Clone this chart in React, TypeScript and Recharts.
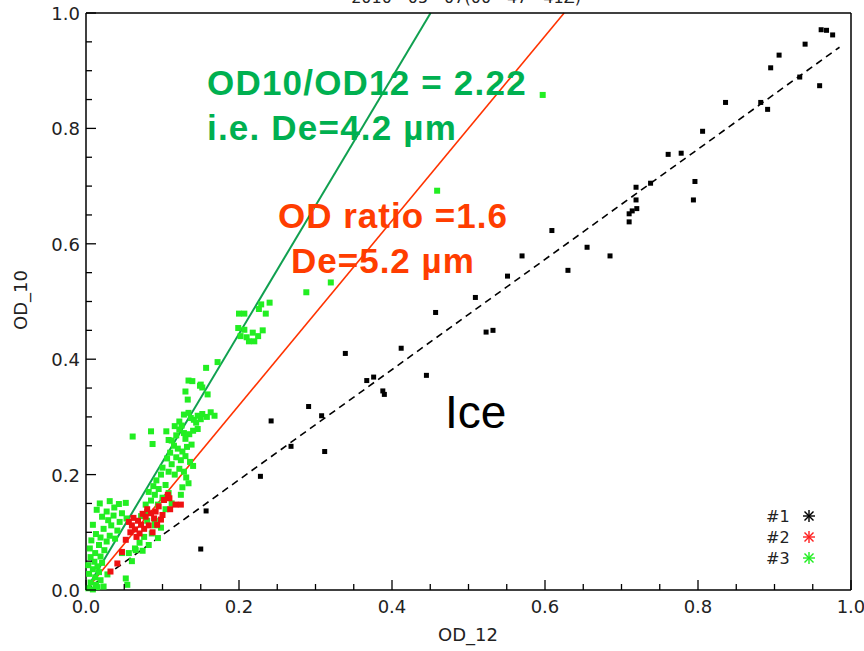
import React from 'react';
import { ScatterChart, Scatter, XAxis, YAxis, ReferenceLine } from 'recharts';

// tick positions (minor every 0.05, labelled every 0.2)
const axisTicks = [
  0, 0.05, 0.1, 0.15, 0.2, 0.25, 0.3, 0.35, 0.4, 0.45, 0.5,
  0.55, 0.6, 0.65, 0.7, 0.75, 0.8, 0.85, 0.9, 0.95, 1,
];

// #1 ice (OD_12, OD_10)
const iceX = [
  0.961, 0.968, 0.976, 0.94, 0.906, 0.895, 0.933, 0.959, 0.836, 0.882, 0.891, 0.806,
  0.761, 0.778, 0.796, 0.794, 0.738, 0.719, 0.719, 0.72, 0.714, 0.71, 0.71, 0.655,
  0.685, 0.609, 0.57, 0.63, 0.551, 0.509, 0.457, 0.523, 0.532, 0.412, 0.339, 0.445,
  0.367, 0.376, 0.388, 0.39, 0.291, 0.308, 0.242, 0.268, 0.312, 0.228, 0.157, 0.15,
];
const iceY = [
  0.971, 0.97, 0.962, 0.946, 0.927, 0.905, 0.889, 0.874, 0.845, 0.845, 0.833, 0.795,
  0.755, 0.757, 0.708, 0.676, 0.705, 0.698, 0.676, 0.661, 0.657, 0.652, 0.638, 0.594,
  0.579, 0.623, 0.579, 0.554, 0.544, 0.507, 0.481, 0.447, 0.45, 0.419, 0.41, 0.372,
  0.363, 0.369, 0.345, 0.339, 0.318, 0.302, 0.293, 0.249, 0.24, 0.197, 0.137, 0.071,
];

// #2
const redX = [
  0.107, 0.109, 0.102, 0.117, 0.124, 0.091, 0.085, 0.078, 0.089, 0.056, 0.06, 0.064,
  0.058, 0.068, 0.072, 0.076, 0.07, 0.082, 0.093, 0.098, 0.087, 0.066, 0.052, 0.047,
  0.041, 0.032, 0.095, 0.08, 0.1, 0.062, 0.074, 0.11,
];
const redY = [
  0.165, 0.159, 0.156, 0.148, 0.148, 0.136, 0.133, 0.127, 0.124, 0.118, 0.112, 0.105,
  0.1, 0.12, 0.113, 0.106, 0.098, 0.112, 0.113, 0.122, 0.1, 0.092, 0.087, 0.066,
  0.046, 0.032, 0.145, 0.14, 0.13, 0.125, 0.132, 0.14,
];

// #3
const greenX = [
  0.597, 0.459, 0.288, 0.32,
  0.24, 0.229, 0.226, 0.235, 0.2, 0.207, 0.199, 0.207, 0.231, 0.218, 0.202, 0.213, 0.22, 0.21, 0.225,
  0.172, 0.157, 0.134, 0.139, 0.15, 0.152, 0.159, 0.13, 0.133, 0.149,
  0.128, 0.122, 0.141, 0.134, 0.146, 0.152, 0.158, 0.163, 0.168, 0.15, 0.137, 0.144,
  0.116, 0.122, 0.128, 0.135, 0.14, 0.146, 0.13, 0.118, 0.125,
  0.061, 0.085, 0.087, 0.105, 0.108, 0.112,
  0.115, 0.12, 0.126, 0.132, 0.138, 0.11, 0.118, 0.124, 0.13, 0.136, 0.14, 0.106, 0.112,
  0.1, 0.108, 0.116, 0.122, 0.128, 0.131, 0.134, 0.126, 0.124, 0.098,
  0.092, 0.088, 0.095, 0.104, 0.082, 0.09, 0.1, 0.108, 0.085, 0.078, 0.094, 0.112, 0.104, 0.08,
  0.072, 0.08, 0.09, 0.098, 0.086, 0.076, 0.094, 0.07, 0.082, 0.064, 0.074, 0.09,
  0.018, 0.031, 0.043, 0.052, 0.014, 0.027, 0.037, 0.047, 0.021, 0.029, 0.036, 0.044, 0.053,
  0.009, 0.023, 0.033, 0.041, 0.013, 0.019, 0.031, 0.007, 0.017, 0.027, 0.038, 0.005, 0.012, 0.024,
  0.006, 0.011, 0.019, 0.003, 0.009, 0.015, 0.021, 0.004, 0.012, 0.017, 0.028, 0.006, 0.013, 0.019,
  0.003, 0.009, 0.015, 0.023,
  0.047, 0.056, 0.065, 0.052, 0.054, 0.06,
];
const greenY = [
  0.858, 0.692, 0.516, 0.533,
  0.498, 0.495, 0.487, 0.479, 0.479, 0.479, 0.454, 0.451, 0.45, 0.446, 0.44, 0.431, 0.431, 0.438, 0.44,
  0.395, 0.385, 0.363, 0.362, 0.356, 0.351, 0.339, 0.344, 0.33, 0.354,
  0.304, 0.292, 0.295, 0.307, 0.302, 0.305, 0.3, 0.308, 0.302, 0.296, 0.298, 0.29,
  0.284, 0.278, 0.272, 0.27, 0.276, 0.279, 0.262, 0.268, 0.285,
  0.266, 0.275, 0.253, 0.275, 0.26, 0.259,
  0.25, 0.245, 0.24, 0.248, 0.252, 0.238, 0.23, 0.225, 0.232, 0.222, 0.215, 0.228, 0.218,
  0.212, 0.205, 0.2, 0.21, 0.205, 0.195, 0.185, 0.178, 0.165, 0.2,
  0.19, 0.18, 0.175, 0.182, 0.17, 0.165, 0.16, 0.168, 0.155, 0.148, 0.148, 0.15, 0.14, 0.135,
  0.128, 0.12, 0.112, 0.108, 0.098, 0.092, 0.09, 0.082, 0.078, 0.072, 0.068, 0.12,
  0.15, 0.154, 0.149, 0.151, 0.139, 0.136, 0.143, 0.133, 0.127, 0.121, 0.129, 0.118, 0.124,
  0.113, 0.106, 0.112, 0.103, 0.097, 0.091, 0.094, 0.086, 0.078, 0.084, 0.089, 0.072, 0.064, 0.069,
  0.057, 0.049, 0.058, 0.043, 0.036, 0.041, 0.047, 0.028, 0.022, 0.031, 0.027, 0.013, 0.009, 0.017,
  0.003, 0.001, 0.005, 0.006,
  0.064, 0.064, 0.069, 0.02, 0.009, 0.05,
];

// fitted ratio lines (OD_10 = ratio * OD_12)
const greenRatio = 2.22;
const redRatio = 1.6;
const iceRatio = 0.955;
const iceLineEnd = 0.985;

const toPoints = (xs: number[], ys: number[]) => xs.map((x, i) => ({ x, y: ys[i] }));
const iceData = toPoints(iceX, iceY);
const redData = toPoints(redX, redY);
const greenData = toPoints(greenX, greenY);

const tickFont = { fontFamily: '"DejaVu Sans", sans-serif', fontSize: 18, fill: '#222' };
const isMajor = (v: number) => Math.abs(v * 5 - Math.round(v * 5)) < 1e-6;

const BottomTick = ({ x, y, payload }: any) => {
  const major = isMajor(payload.value);
  return (
    <g>
      <line x1={x} y1={y} x2={x} y2={y - (major ? 10 : 6)} stroke="#000" strokeWidth={1.3} />
      {major && (
        <text x={x} y={y + 23} textAnchor="middle" style={tickFont}>
          {payload.value.toFixed(1)}
        </text>
      )}
    </g>
  );
};

const TopTick = ({ x, y, payload }: any) => (
  <line x1={x} y1={y} x2={x} y2={y + (isMajor(payload.value) ? 10 : 6)} stroke="#000" strokeWidth={1.3} />
);

const LeftTick = ({ x, y, payload }: any) => {
  const major = isMajor(payload.value);
  return (
    <g>
      <line x1={x} y1={y} x2={x + (major ? 10 : 6)} y2={y} stroke="#000" strokeWidth={1.3} />
      {major && (
        <text x={x - 6} y={y + 7} textAnchor="end" style={tickFont}>
          {payload.value.toFixed(1)}
        </text>
      )}
    </g>
  );
};

const RightTick = ({ x, y, payload }: any) => (
  <line x1={x} y1={y} x2={x - (isMajor(payload.value) ? 10 : 6)} y2={y} stroke="#000" strokeWidth={1.3} />
);

const square = (size: number, color: string) => (props: any) => (
  <rect x={props.cx - size / 2} y={props.cy - size / 2} width={size} height={size} fill={color} />
);

const Asterisk = ({ cx, cy, color }: { cx: number; cy: number; color: string }) => (
  <g stroke={color} strokeWidth={1.4}>
    <line x1={cx - 6} y1={cy} x2={cx + 6} y2={cy} />
    <line x1={cx} y1={cy - 6} x2={cx} y2={cy + 6} />
    <line x1={cx - 4.5} y1={cy - 4.5} x2={cx + 4.5} y2={cy + 4.5} />
    <line x1={cx - 4.5} y1={cy + 4.5} x2={cx + 4.5} y2={cy - 4.5} />
  </g>
);

const boldFont = '"Liberation Sans", Arial, sans-serif';
const frame = { stroke: '#000', strokeWidth: 1.5 };

export default function App() {
  return (
    <div style={{ position: 'absolute', left: 0, top: 0, width: 864, height: 651, background: '#fff' }}>
      <ScatterChart width={864} height={651} margin={{ top: 12, right: 12, bottom: 60, left: 85 }}>
        <XAxis
          xAxisId="b"
          type="number"
          dataKey="x"
          domain={[0, 1]}
          ticks={axisTicks}
          interval={0}
          height={1}
          tickSize={0}
          tickMargin={0}
          tick={<BottomTick />}
          axisLine={frame}
        />
        <XAxis
          xAxisId="t"
          orientation="top"
          type="number"
          dataKey="x"
          domain={[0, 1]}
          ticks={axisTicks}
          interval={0}
          height={1}
          tickSize={0}
          tickMargin={0}
          tick={<TopTick />}
          axisLine={frame}
        />
        <YAxis
          yAxisId="l"
          type="number"
          dataKey="y"
          domain={[0, 1]}
          ticks={axisTicks}
          interval={0}
          width={1}
          tickSize={0}
          tickMargin={0}
          tick={<LeftTick />}
          axisLine={frame}
        />
        <YAxis
          yAxisId="r"
          orientation="right"
          type="number"
          dataKey="y"
          domain={[0, 1]}
          ticks={axisTicks}
          interval={0}
          width={1}
          tickSize={0}
          tickMargin={0}
          tick={<RightTick />}
          axisLine={frame}
        />
        <Scatter name="#1" data={iceData} xAxisId="b" yAxisId="l" shape={square(5, '#000')} isAnimationActive={false} />
        <Scatter name="#3" data={greenData} xAxisId="b" yAxisId="l" shape={square(6, '#22ee22')} isAnimationActive={false} />
        <Scatter name="#2" data={redData} xAxisId="b" yAxisId="l" shape={square(6, '#ee1111')} isAnimationActive={false} />
        <ReferenceLine
          xAxisId="b"
          yAxisId="l"
          segment={[{ x: 0, y: 0 }, { x: 1 / greenRatio, y: 1 }]}
          stroke="#10a050"
          strokeWidth={2}
        />
        <ReferenceLine
          xAxisId="b"
          yAxisId="l"
          segment={[{ x: 0, y: 0 }, { x: 1 / redRatio, y: 1 }]}
          stroke="#ff3300"
          strokeWidth={1.6}
        />
        <ReferenceLine
          xAxisId="b"
          yAxisId="l"
          segment={[{ x: 0, y: 0 }, { x: iceLineEnd, y: iceLineEnd * iceRatio }]}
          stroke="#000"
          strokeWidth={1.6}
          strokeDasharray="7 5"
        />
      </ScatterChart>
      <svg
        width={864}
        height={651}
        style={{ position: 'absolute', left: 0, top: 0, pointerEvents: 'none', overflow: 'visible' }}
      >
        <text x={466} y={3} textAnchor="middle" style={{ ...tickFont, fontSize: 16 }}>
          2010 - 05 - 07(00 - 47 - 41Z)
        </text>
        <text x={468} y={641} textAnchor="middle" style={tickFont}>OD_12</text>
        <text x={27} y={300} textAnchor="middle" transform="rotate(-90 27 300)" style={tickFont}>OD_10</text>
        <g style={{ fontFamily: boldFont, fontWeight: 700, fontSize: 35, letterSpacing: 1.2 }} fill="#00b050">
          <text x={207} y={95}>OD10/OD12 = 2.22</text>
          <text x={207} y={140}>i.e. De=4.2 µm</text>
        </g>
        <g style={{ fontFamily: boldFont, fontWeight: 700, fontSize: 35, letterSpacing: 1 }} fill="#ff3d00">
          <text x={278} y={228}>OD ratio =1.6</text>
          <text x={291} y={273}>De=5.2 µm</text>
        </g>
        <text x={445} y={428} style={{ fontFamily: boldFont, fontSize: 46 }} fill="#000">Ice</text>
        <g style={{ ...tickFont, fontSize: 16 }}>
          <text x={766} y={522}>#1</text>
          <text x={766} y={543}>#2</text>
          <text x={766} y={564}>#3</text>
        </g>
        <Asterisk cx={809} cy={516} color="#000" />
        <Asterisk cx={809} cy={537} color="#ff2020" />
        <Asterisk cx={809} cy={558} color="#20ee20" />
      </svg>
    </div>
  );
}
